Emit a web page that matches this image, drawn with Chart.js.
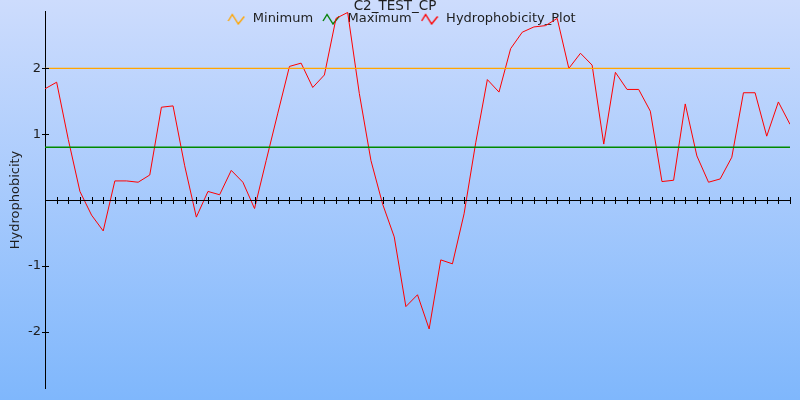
<!DOCTYPE html>
<html>
<head>
<meta charset="utf-8">
<title>C2_TEST_CP</title>
<script src="https://cdn.jsdelivr.net/npm/chart.js@4.4.1/dist/chart.umd.min.js"></script>
<style>
  html, body { margin: 0; padding: 0; background: #fff; }
  #wrap { width: 800px; height: 400px; }
</style>
</head>
<body>
<div id="wrap"><canvas id="myChartHydro" width="800" height="400"></canvas></div>
<script>
// Datos
const chartTitle = "C2_TEST_CP"
const seriesNames = ["Minimum", "Maximum", "Hydrophobicity_Plot"]
const minLevel = 2
const maxLevel = 0.8
const hydroValues = [
    1.69, 1.79, 0.92, 0.13, -0.23, -0.47, 0.29, 0.29, 0.27, 0.38,
    1.41, 1.43, 0.52, -0.26, 0.13, 0.08, 0.45, 0.27, -0.13, 0.60,
    1.32, 2.03, 2.08, 1.71, 1.90, 2.76, 2.85, 1.62, 0.60, -0.06,
    -0.56, -1.62, -1.44, -1.96, -0.91, -0.97, -0.21, 0.87, 1.83, 1.64,
    2.30, 2.55, 2.63, 2.65, 2.76, 2.00, 2.23, 2.05, 0.85, 1.94,
    1.68, 1.68, 1.35, 0.28, 0.30, 1.46, 0.67, 0.27, 0.32, 0.65,
    1.63, 1.63, 0.97, 1.49, 1.15
]
const yTickValues = [-2, -1, 1, 2]
const yLimit = 2.86
const yTitle = "Hydrophobicity"

const chart_Hydro = document.getElementById("myChartHydro")
const lastIndex = hydroValues.length - 1

// icono en zigzag para la leyenda
const makeZigzag = (color) => {
    const c = document.createElement("canvas")
    c.width = 18
    c.height = 12
    const g = c.getContext("2d")
    g.strokeStyle = color
    g.lineWidth = 1.4
    g.beginPath()
    g.moveTo(1, 8)
    g.lineTo(5, 1.5)
    g.lineTo(11, 11)
    g.lineTo(17, 3.5)
    g.stroke()
    return c
}

const bgPlugin = {
    id: "fondo",
    afterInit(chart) {
        // leyenda y titulo encima del area del grafico (no ocupan alto)
        const lg = chart.legend
        const lgFit = lg.fit
        lg.fit = function () { lgFit.call(this); this.height = 0 }
        const tb = chart.titleBlock
        const tbUpdate = tb.update
        tb.update = function (w, h, m) { tbUpdate.call(this, w, h, m); this.height = 0 }
    },
    beforeDraw(chart) {
        const ctx = chart.ctx
        const grad = ctx.createLinearGradient(0, 0, 0, chart.height)
        grad.addColorStop(0, "#cddcfd")
        grad.addColorStop(1, "#7fb7fc")
        ctx.save()
        ctx.fillStyle = grad
        ctx.fillRect(0, 0, chart.width, chart.height)
        ctx.restore()
        const tb = chart.titleBlock
        tb.top = -2
        tb.bottom = 16
        const lg = chart.legend
        lg.top = 4.5
        lg.bottom = 32
        lg.height = 27.5
        lg.left = 6
        lg.right = 796
    },
    afterDatasetsDraw(chart) {
        const ctx = chart.ctx
        const xs = chart.scales.x
        const ys = chart.scales.y
        const area = chart.chartArea
        const y0 = Math.round(ys.getPixelForValue(0)) + 0.5
        ctx.save()
        ctx.strokeStyle = "#000"
        ctx.lineWidth = 1
        ctx.beginPath()
        ctx.moveTo(area.left, y0)
        ctx.lineTo(area.right, y0)
        hydroValues.forEach((v, i) => {
            const px = Math.round(xs.getPixelForValue(i)) + 0.5
            ctx.moveTo(px, y0 - 3.5)
            ctx.lineTo(px, y0 + 3.5)
        })
        const lx = Math.round(area.left) + 0.5
        yTickValues.forEach(v => {
            const py = Math.round(ys.getPixelForValue(v)) + 0.5
            ctx.moveTo(lx - 3.5, py)
            ctx.lineTo(lx + 3.5, py)
        })
        ctx.stroke()
        ctx.restore()
    }
}

Chart.defaults.font.family = "'DejaVu Sans', Verdana, sans-serif"
Chart.defaults.font.size = 13
Chart.defaults.color = "#1e1e1e"

const myChart = new Chart(chart_Hydro, {
    type: "line",
    data: {
        datasets: [{
            label: seriesNames[0],
            data: [{ x: 0, y: minLevel }, { x: lastIndex, y: minLevel }],
            borderColor: "#ffa500",
            borderWidth: 1.2,
            pointRadius: 0,
            pointStyle: makeZigzag("#ffa500")
        }, {
            label: seriesNames[1],
            data: [{ x: 0, y: maxLevel }, { x: lastIndex, y: maxLevel }],
            borderColor: "#008a00",
            borderWidth: 1.5,
            pointRadius: 0,
            pointStyle: makeZigzag("#008000")
        }, {
            label: seriesNames[2],
            data: hydroValues.map((v, i) => ({ x: i, y: v })),
            borderColor: "#ff0000",
            borderWidth: 1,
            pointRadius: 0,
            tension: 0,
            pointStyle: makeZigzag("#ff0000")
        }]
    },
    options: {
        responsive: false,
        animation: false,
        layout: {
            padding: { top: 10, right: 10, bottom: 10, left: 0 }
        },
        plugins: {
            title: {
                display: true,
                text: chartTitle,
                color: "#1e1e1e",
                font: { size: 13.5, weight: "normal" },
                padding: 0
            },
            legend: {
                display: true,
                labels: {
                    usePointStyle: true,
                    pointStyleWidth: 20,
                    padding: 8,
                    color: "#1e1e1e"
                }
            },
            tooltip: { enabled: false }
        },
        scales: {
            x: {
                type: "linear",
                min: 0,
                max: lastIndex,
                display: false
            },
            y: {
                min: -yLimit,
                max: yLimit,
                afterBuildTicks: (scale) => {
                    scale.ticks = yTickValues.map(v => ({ value: v }))
                },
                afterFit: (scale) => {
                    scale.width = 45
                },
                grid: { display: false, drawTicks: false },
                border: { display: true, color: "#000", width: 1 },
                ticks: {
                    padding: 4,
                    color: "#1e1e1e",
                    callback: (v) => String(v)
                },
                title: {
                    display: true,
                    text: yTitle,
                    color: "#1e1e1e",
                    padding: { top: 8, bottom: 0 }
                }
            }
        }
    },
    plugins: [bgPlugin]
})
</script>
</body>
</html>
